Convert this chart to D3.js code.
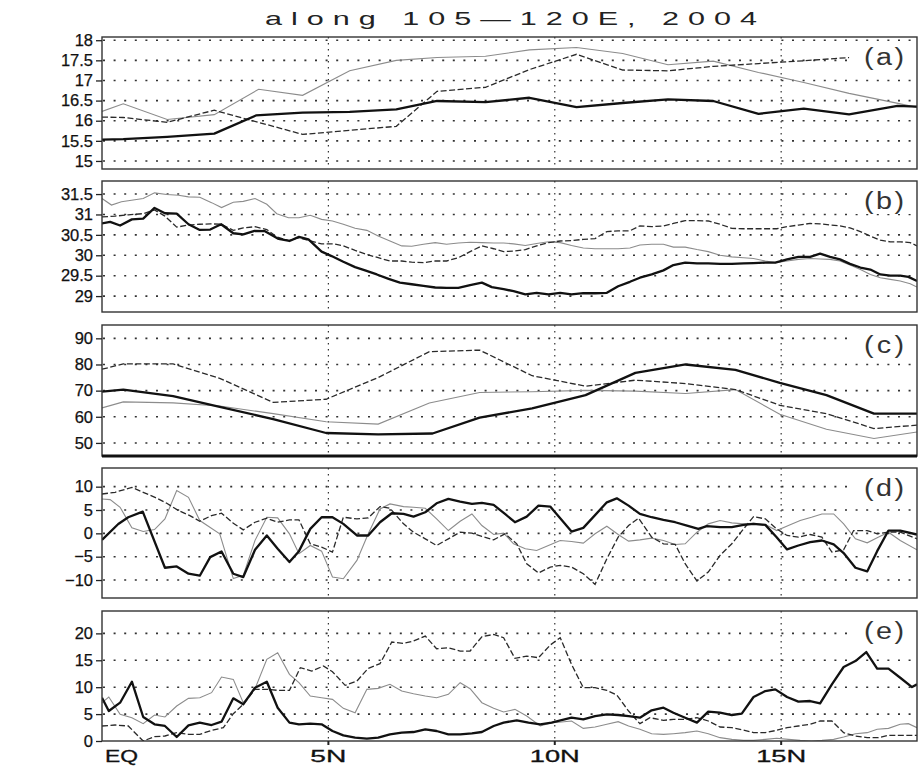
<!DOCTYPE html>
<html>
<head>
<meta charset="utf-8">
<script src="https://cdn.jsdelivr.net/npm/d3@7"></script>
<style>
  body { margin: 0; background: #fff; }
  svg { display: block; }
</style>
</head>
<body>
<svg width="918" height="773"></svg>
<script>
// values: [latitude (deg N), value]
var aThick = [[0,15.53],[0.47,15.54],[1.44,15.6],[2.48,15.68],[3.4,16.13],[4.43,16.2],[5.47,16.22],[6.5,16.28],[7.4,16.49],[8.47,16.46],[9.44,16.57],[10.48,16.34],[11.5,16.44],[12.5,16.53],[13.5,16.49],[14.5,16.17],[15.5,16.3],[16.5,16.16],[17.57,16.37],[18,16.35]];
var aGray = [[0,16.23],[0.47,16.42],[1.44,16.03],[2.48,16.15],[3.46,16.78],[4.43,16.63],[5.47,17.24],[6.5,17.5],[7.4,17.57],[8.47,17.6],[9.44,17.76],[10.48,17.82],[11.5,17.67],[12.5,17.39],[13.5,17.48],[14.5,17.2],[15.5,16.95],[16.5,16.68],[17.5,16.45],[18,16.33]];
var aDash = [[0,16.09],[0.47,16.08],[1.44,15.96],[2.48,16.26],[4.43,15.66],[5.47,15.76],[6.5,15.86],[7.4,16.73],[8.47,16.83],[9.44,17.27],[10.48,17.65],[11.5,17.26],[12.5,17.24],[13.5,17.35],[14.5,17.42],[15.5,17.49],[16.5,17.57]];

var bThick = [[0,30.78],[0.18,30.82],[0.4,30.73],[0.66,30.88],[0.91,30.9],[1.16,31.16],[1.39,31.03],[1.65,31.02],[1.91,30.76],[2.16,30.62],[2.39,30.63],[2.63,30.76],[2.9,30.54],[3.12,30.51],[3.37,30.6],[3.6,30.59],[3.9,30.4],[4.14,30.35],[4.35,30.45],[4.56,30.39],[4.85,30.09],[5.07,29.98],[5.33,29.84],[5.59,29.71],[5.81,29.63],[6.07,29.53],[6.33,29.42],[6.58,29.33],[6.84,29.29],[7.1,29.25],[7.36,29.21],[7.61,29.2],[7.87,29.2],[8.13,29.27],[8.39,29.33],[8.61,29.22],[8.87,29.17],[9.09,29.12],[9.35,29.04],[9.6,29.08],[9.86,29.04],[10.12,29.08],[10.37,29.04],[10.63,29.07],[10.89,29.07],[11.15,29.08],[11.4,29.24],[11.66,29.35],[11.88,29.45],[12.14,29.53],[12.4,29.63],[12.62,29.76],[12.88,29.82],[13.14,29.8],[13.39,29.8],[13.65,29.79],[13.91,29.79],[14.17,29.8],[14.39,29.81],[14.65,29.82],[14.87,29.82],[15.13,29.9],[15.38,29.96],[15.64,29.96],[15.86,30.04],[16.08,29.96],[16.3,29.9],[16.52,29.79],[16.75,29.7],[16.97,29.65],[17.19,29.53],[17.41,29.5],[17.63,29.5],[17.81,29.47],[18,29.37]];
var bGray = [[0,31.39],[0.21,31.23],[0.43,31.31],[0.91,31.39],[1.16,31.53],[1.43,31.49],[1.69,31.47],[1.91,31.43],[2.16,31.42],[2.42,31.29],[2.64,31.17],[2.9,31.3],[3.12,31.32],[3.38,31.39],[3.64,31.25],[3.86,31.02],[4.12,30.92],[4.35,30.92],[4.6,30.98],[4.85,30.88],[5.09,30.84],[5.33,30.76],[5.59,30.66],[5.85,30.61],[6.1,30.47],[6.36,30.35],[6.62,30.23],[6.84,30.22],[7.1,30.27],[7.36,30.31],[7.61,30.27],[7.87,30.3],[8.13,30.32],[8.39,30.31],[8.65,30.3],[8.87,30.3],[9.09,30.28],[9.35,30.24],[9.6,30.29],[9.86,30.33],[10.12,30.31],[10.37,30.24],[10.63,30.18],[10.89,30.16],[11.15,30.16],[11.4,30.16],[11.66,30.18],[11.88,30.25],[12.14,30.27],[12.4,30.27],[12.62,30.2],[12.88,30.2],[13.14,30.14],[13.39,30.09],[13.65,30.0],[13.91,29.96],[14.17,29.94],[14.39,29.92],[14.65,29.86],[14.87,29.82],[15.13,29.86],[15.38,29.9],[15.64,29.92],[15.86,29.91],[16.08,29.9],[16.3,29.86],[16.52,29.76],[16.75,29.65],[16.97,29.53],[17.19,29.45],[17.41,29.41],[17.63,29.37],[17.85,29.3],[18,29.22]];
var bDash = [[0,30.94],[0.29,30.96],[0.58,30.99],[0.91,31.02],[1.16,31.11],[1.39,30.96],[1.65,30.69],[1.91,30.74],[2.16,30.76],[2.39,30.77],[2.64,30.76],[2.9,30.61],[3.12,30.67],[3.38,30.7],[3.64,30.63],[3.86,30.45],[4.12,30.36],[4.35,30.43],[4.6,30.35],[4.85,30.28],[5.11,30.28],[5.33,30.23],[5.59,30.12],[5.85,30.02],[6.1,29.94],[6.36,29.86],[6.62,29.86],[6.84,29.83],[7.1,29.82],[7.36,29.86],[7.61,29.86],[7.87,29.94],[8.13,30.09],[8.39,30.23],[8.65,30.16],[8.87,30.09],[9.09,30.1],[9.35,30.14],[9.6,30.23],[9.86,30.31],[10.12,30.35],[10.37,30.36],[10.63,30.39],[10.89,30.41],[11.15,30.58],[11.4,30.6],[11.66,30.6],[11.88,30.72],[12.14,30.7],[12.4,30.72],[12.62,30.78],[12.88,30.85],[13.14,30.85],[13.39,30.84],[13.65,30.76],[13.91,30.66],[14.17,30.65],[14.39,30.65],[14.65,30.65],[14.9,30.65],[15.13,30.7],[15.38,30.74],[15.64,30.78],[15.86,30.77],[16.08,30.74],[16.3,30.72],[16.52,30.67],[16.75,30.58],[16.97,30.47],[17.19,30.37],[17.41,30.33],[17.63,30.33],[17.85,30.31],[18,30.23]];

var cThick = [[0,69.6],[0.47,70.4],[1.57,67.9],[2.6,63.8],[3.78,59.1],[4.95,53.8],[6.1,53.3],[7.3,53.6],[8.34,59.7],[9.5,63.2],[10.68,68.3],[11.78,76.8],[12.89,80.0],[13.99,77.9],[14.97,73.0],[16.0,68.3],[17.05,61.2],[18,61.2]];
var cGray = [[0,63.4],[0.47,65.7],[1.57,65.3],[2.6,64.1],[3.78,61.2],[4.95,58.1],[6.1,57.2],[7.23,65.3],[8.34,69.3],[9.5,69.6],[10.68,70.1],[11.78,69.8],[12.89,68.9],[13.99,70.4],[14.97,61.0],[16.0,55.2],[17.05,51.7],[18,54.2]];
var cDash = [[0,78.2],[0.47,80.2],[1.57,80.2],[2.6,74.7],[3.78,65.5],[4.95,66.7],[6.1,75.0],[7.23,84.9],[8.34,85.5],[9.5,75.7],[10.68,71.7],[11.78,74.0],[12.89,72.7],[13.99,70.4],[14.97,64.4],[16.0,61.2],[17.05,55.5],[18,56.8]];

var dThick = [[0,-1.39],[0.36,2.0],[0.58,3.45],[0.9,4.66],[1.39,-7.37],[1.65,-7.08],[1.91,-8.65],[2.16,-9.07],[2.39,-5.09],[2.64,-3.88],[2.9,-8.65],[3.12,-9.36],[3.38,-3.52],[3.64,-0.46],[3.88,-3.31],[4.14,-6.16],[4.35,-3.81],[4.6,0.96],[4.85,3.45],[5.09,3.45],[5.33,2.03],[5.63,-0.46],[5.88,-0.46],[6.14,2.38],[6.4,4.31],[6.66,4.16],[6.88,3.59],[7.14,4.52],[7.39,6.44],[7.65,7.37],[7.91,6.8],[8.17,6.3],[8.39,6.51],[8.65,6.09],[8.9,4.16],[9.12,2.38],[9.38,3.59],[9.64,5.94],[9.9,5.73],[10.37,0.39],[10.63,1.17],[11.15,6.65],[11.37,7.5],[11.63,5.94],[11.88,4.16],[12.14,3.45],[12.4,2.88],[12.66,2.38],[12.92,1.67],[13.17,0.96],[13.36,1.53],[13.65,1.32],[13.91,1.32],[14.17,1.81],[14.39,2.03],[14.65,1.81],[14.9,-0.82],[15.13,-3.45],[15.38,-2.6],[15.64,-1.89],[15.9,-1.53],[16.16,-2.38],[16.38,-4.23],[16.64,-7.37],[16.9,-8.15],[17.12,-3.81],[17.37,0.6],[17.63,0.6],[18,-0.25]];
var dGray = [[0,7.37],[0.18,7.22],[0.4,5.59],[0.66,1.17],[0.91,0.39],[1.16,0.82],[1.39,3.1],[1.65,9.15],[1.91,7.72],[2.16,2.74],[2.6,-0.1],[2.9,-9.7],[3.12,-9.0],[3.38,-1.5],[3.64,3.45],[3.88,3.31],[4.14,-0.1],[4.35,-4.37],[4.6,-2.6],[4.85,-3.81],[5.09,-9.36],[5.33,-9.72],[5.63,-5.8],[5.88,-0.1],[6.14,5.23],[6.36,6.3],[6.66,5.73],[6.88,5.59],[7.14,5.37],[7.39,3.1],[7.65,0.6],[7.91,2.6],[8.17,4.16],[8.39,1.67],[8.65,-0.25],[8.87,0.04],[9.09,-2.24],[9.35,-3.31],[9.6,-3.67],[9.86,-2.6],[10.12,-1.53],[10.37,-1.74],[10.63,-2.1],[10.89,-0.1],[11.15,1.53],[11.4,-0.25],[11.63,-1.67],[11.88,-1.39],[12.14,-1.03],[12.4,-1.53],[12.66,-2.38],[12.88,-2.24],[13.14,0.25],[13.39,2.03],[13.65,2.74],[13.91,2.24],[14.17,2.03],[14.39,2.17],[14.65,1.88],[14.9,0.6],[15.16,1.67],[15.42,2.74],[15.67,3.45],[15.9,4.16],[16.16,4.16],[16.38,2.03],[16.64,-1.17],[16.9,-2.03],[17.12,-0.96],[17.37,0.25],[17.63,-1.53],[18,-3.52]];
var dDash = [[0,8.43],[0.29,8.79],[0.66,9.86],[0.91,8.79],[1.17,7.72],[1.43,6.44],[1.69,4.88],[1.94,3.81],[2.16,2.6],[2.42,3.81],[2.64,4.31],[2.9,2.17],[3.12,0.75],[3.38,2.38],[3.64,3.24],[3.88,2.38],[4.14,2.88],[4.35,2.88],[4.6,-2.24],[4.85,-2.95],[5.09,-4.02],[5.33,3.45],[5.63,3.1],[5.88,3.31],[6.14,5.73],[6.36,5.37],[6.66,2.03],[6.88,0.25],[7.14,-1.17],[7.39,-2.6],[7.65,-1.17],[7.91,0.25],[8.17,0.04],[8.39,-0.67],[8.65,-1.39],[8.9,-0.1],[9.16,-2.24],[9.38,-6.51],[9.64,-8.5],[9.9,-7.22],[10.12,-6.87],[10.37,-7.22],[10.63,-8.65],[10.89,-10.93],[11.15,-5.44],[11.4,-0.82],[11.63,1.67],[11.85,3.24],[12.14,-0.82],[12.4,-2.24],[12.66,-2.38],[12.88,-6.51],[13.14,-10.2],[13.39,-8.29],[13.65,-4.73],[13.91,-2.24],[14.17,0.96],[14.39,3.59],[14.65,3.1],[14.9,0.96],[15.13,-0.46],[15.38,-0.82],[15.64,-0.25],[15.9,-0.82],[16.12,-4.02],[16.38,-3.52],[16.6,0.6],[16.9,0.6],[17.12,-0.1],[17.37,0.25],[17.63,0.25],[18,-1.17]];

var eThick = [[0,8.05],[0.15,5.57],[0.4,7.12],[0.66,11.02],[0.91,4.46],[1.16,3.1],[1.39,2.79],[1.65,0.74],[1.91,2.91],[2.16,3.41],[2.42,2.97],[2.64,3.59],[2.9,7.93],[3.12,6.81],[3.38,9.91],[3.64,11.02],[3.88,6.19],[4.14,3.41],[4.35,3.1],[4.6,3.22],[4.85,3.1],[5.09,1.86],[5.33,1.05],[5.59,0.62],[5.85,0.43],[6.1,0.62],[6.36,1.24],[6.62,1.55],[6.88,1.67],[7.14,2.17],[7.39,1.86],[7.65,1.24],[7.91,1.24],[8.17,1.42],[8.39,1.67],[8.65,2.79],[8.87,3.41],[9.16,3.84],[9.42,3.41],[9.68,3.1],[9.93,3.41],[10.37,4.33],[10.63,4.02],[10.89,4.64],[11.15,4.95],[11.4,4.83],[11.63,4.64],[11.88,4.33],[12.14,5.7],[12.4,6.19],[12.62,5.26],[12.88,4.33],[13.14,3.41],[13.39,5.45],[13.65,5.26],[13.91,4.83],[14.13,5.08],[14.39,8.17],[14.65,9.29],[14.87,9.6],[15.13,8.17],[15.38,7.31],[15.64,7.43],[15.86,7.0],[16.12,10.53],[16.38,13.75],[16.64,14.86],[16.88,16.53],[17.12,13.44],[17.37,13.44],[17.63,11.76],[17.89,10.03],[18,10.53]];
var eGray = [[0,7.12],[0.15,8.17],[0.4,4.95],[0.66,4.33],[0.91,3.22],[1.16,4.83],[1.39,4.46],[1.65,6.5],[1.91,7.93],[2.16,8.05],[2.42,8.98],[2.64,11.89],[2.9,11.45],[3.12,7.12],[3.38,9.72],[3.64,15.17],[3.88,16.41],[4.14,12.38],[4.35,10.84],[4.6,8.36],[4.85,8.05],[5.09,7.74],[5.33,6.07],[5.59,5.26],[5.85,9.6],[6.1,9.78],[6.36,10.53],[6.62,9.29],[6.88,8.79],[7.14,8.36],[7.39,8.05],[7.65,8.67],[7.91,10.84],[8.13,9.72],[8.39,7.12],[8.65,6.07],[8.87,5.39],[9.12,5.88],[9.38,4.64],[9.68,2.79],[9.93,3.41],[10.15,3.53],[10.37,3.72],[10.63,2.35],[10.89,2.6],[11.15,3.1],[11.4,3.59],[11.63,2.79],[11.88,2.17],[12.14,1.36],[12.4,1.24],[12.62,1.36],[12.88,1.55],[13.14,1.86],[13.39,1.36],[13.65,0.62],[13.91,0.31],[14.17,0.12],[14.39,0.12],[14.65,0.31],[14.9,0.5],[15.16,0.31],[15.42,0.12],[15.67,0],[15.9,0.12],[16.16,0.31],[16.38,0.74],[16.64,1.36],[16.9,1.55],[17.12,2.17],[17.37,2.35],[17.63,3.1],[17.81,3.22],[18,2.48]];
var eDash = [[0,2.79],[0.29,2.97],[0.58,2.79],[0.91,0],[1.16,0.8],[1.39,0.93],[1.65,1.55],[1.91,1.24],[2.16,1.24],[2.42,1.98],[2.68,2.48],[2.9,5.08],[3.12,6.81],[3.38,9.6],[3.64,9.6],[3.88,9.41],[4.14,9.41],[4.38,13.62],[4.63,13.0],[4.89,13.93],[5.09,12.88],[5.37,10.34],[5.63,11.15],[5.88,13.5],[6.14,14.37],[6.4,18.39],[6.66,18.14],[6.88,18.58],[7.14,19.5],[7.39,17.15],[7.65,17.34],[7.91,16.72],[8.13,16.72],[8.39,19.38],[8.65,19.81],[8.87,19.2],[9.12,15.36],[9.38,15.79],[9.64,15.48],[9.9,17.83],[10.12,19.2],[10.37,14.24],[10.63,9.91],[10.89,9.91],[11.15,9.41],[11.37,8.55],[11.63,5.57],[11.88,3.22],[12.1,4.33],[12.4,3.84],[12.62,4.02],[12.88,4.02],[13.14,4.33],[13.39,3.72],[13.65,2.6],[13.91,2.48],[14.17,2.04],[14.39,1.55],[14.65,1.55],[14.9,1.98],[15.13,2.48],[15.38,2.79],[15.64,3.1],[15.86,3.72],[16.12,3.72],[16.38,1.55],[16.64,0.93],[16.9,0.62],[17.15,0.62],[17.37,1.05],[17.63,1.05],[18,1.05]];

var aTicks = [15, 15.5, 16, 16.5, 17, 17.5, 18];
var bTicks = [29, 29.5, 30, 30.5, 31, 31.5];
var cTicks = [50, 60, 70, 80, 90];
var dTicks = [-10, -5, 0, 5, 10];
var eTicks = [0, 5, 10, 15, 20];
var latTicks = [0, 5, 10, 15];
var latLabels = ['EQ', '5N', '10N', '15N'];
var title = 'along 105\u2014120E, 2004';

var svg = d3.select('svg');
var left = 102, right = 917;
var x = d3.scaleLinear().domain([0, 18]).range([left, right]);

var panels = [
  {name: '(a)', top: 37, bottom: 169, domain: [14.8, 18.08], ticks: aTicks, thick: aThick, gray: aGray, dash: aDash},
  {name: '(b)', top: 181, bottom: 312, domain: [28.61, 31.82], ticks: bTicks, thick: bThick, gray: bGray, dash: bDash},
  {name: '(c)', top: 325, bottom: 456, domain: [45, 95.1], ticks: cTicks, thick: cThick, gray: cGray, dash: cDash},
  {name: '(d)', top: 468, bottom: 598, domain: [-13.85, 14], ticks: dTicks, thick: dThick, gray: dGray, dash: dDash},
  {name: '(e)', top: 611, bottom: 741, domain: [0, 24.16], ticks: eTicks, thick: eThick, gray: eGray, dash: eDash}
];

var fmt = function(d) { return String(d).replace('-', '\u2212'); };

// title, wide thin glyphs like the plotting package's stroke font
svg.append('g')
   .attr('transform', 'translate(265,25) scale(1.7,1)')
   .append('text')
     .attr('x', 0).attr('y', 0)
     .attr('textLength', 492 / 1.7)
     .attr('lengthAdjust', 'spacing')
     .style('font-family', 'Liberation Sans, Arial, sans-serif')
     .style('font-size', '18px')
     .style('fill', '#222')
     .text(title);

panels.forEach(function(p, i) {
  var y = d3.scaleLinear().domain(p.domain).range([p.bottom, p.top]);
  var g = svg.append('g');

  g.append('clipPath').attr('id', 'clip' + i)
   .append('rect')
     .attr('x', left).attr('y', p.top)
     .attr('width', right - left).attr('height', p.bottom - p.top);

  // dotted grid
  g.selectAll('.hgrid')
   .data(p.ticks.filter(function(t) { return y(t) > p.top + 2 && y(t) < p.bottom - 2; }))
   .enter().append('line')
     .attr('x1', left + 1).attr('x2', right)
     .attr('y1', function(d) { return y(d); })
     .attr('y2', function(d) { return y(d); })
     .attr('stroke', '#333').attr('stroke-width', 1.6)
     .attr('stroke-dasharray', '2,8.6');

  g.selectAll('.vgrid')
   .data([5, 10, 15])
   .enter().append('line')
     .attr('x1', function(d) { return x(d); })
     .attr('x2', function(d) { return x(d); })
     .attr('y1', p.top).attr('y2', p.bottom)
     .attr('stroke', '#333').attr('stroke-width', 1.2)
     .attr('stroke-dasharray', '1.5,4.5');

  var line = d3.line()
    .x(function(d) { return x(d[0]); })
    .y(function(d) { return y(d[1]); });

  var lines = g.append('g').attr('clip-path', 'url(#clip' + i + ')');
  lines.append('path').datum(p.gray)
    .attr('d', line).attr('fill', 'none')
    .attr('stroke', '#8c8c8c').attr('stroke-width', 1.1);
  lines.append('path').datum(p.dash)
    .attr('d', line).attr('fill', 'none')
    .attr('stroke', '#2a2a2a').attr('stroke-width', 1.3)
    .attr('stroke-dasharray', '6,2.5');
  lines.append('path').datum(p.thick)
    .attr('d', line).attr('fill', 'none')
    .attr('stroke', '#111').attr('stroke-width', 2.3)
    .attr('stroke-linejoin', 'round');

  // panel letter on a white patch
  g.append('rect')
    .attr('x', 850).attr('y', p.top + 5)
    .attr('width', right - 851).attr('height', 28)
    .attr('fill', '#fff');
  g.append('g')
    .attr('transform', 'translate(864,' + (p.top + 28) + ') scale(1.25,1)')
    .append('text')
      .attr('x', 0).attr('y', 0)
      .attr('textLength', 40 / 1.25).attr('lengthAdjust', 'spacing')
      .style('font-family', 'Liberation Sans, Arial, sans-serif')
      .style('font-size', '23px')
      .style('fill', '#333')
      .text(p.name);

  // frame
  g.append('rect')
    .attr('x', left).attr('y', p.top)
    .attr('width', right - left).attr('height', p.bottom - p.top)
    .attr('fill', 'none').attr('stroke', '#333').attr('stroke-width', 1.4);
  if (p.name === '(c)') {
    g.append('line')
      .attr('x1', left).attr('x2', right)
      .attr('y1', p.bottom).attr('y2', p.bottom)
      .attr('stroke', '#111').attr('stroke-width', 3);
  }

  // y axis
  var axis = g.append('g')
    .attr('transform', 'translate(' + left + ',0)')
    .call(d3.axisLeft(y).tickValues(p.ticks).tickSize(6).tickPadding(3).tickFormat(fmt));
  axis.select('.domain').remove();
  axis.selectAll('line').attr('stroke', '#222').attr('stroke-width', 1.3);
  axis.selectAll('text')
    .style('font-family', 'Liberation Sans, Arial, sans-serif')
    .style('font-size', '16.5px')
    .style('fill', '#111')
    .style('stroke', '#111')
    .style('stroke-width', 0.25);
});

// latitude axis under the last panel
var last = panels[panels.length - 1];
svg.selectAll('.xtick')
   .data([5, 10, 15])
   .enter().append('line')
     .attr('x1', function(d) { return x(d); })
     .attr('x2', function(d) { return x(d); })
     .attr('y1', last.bottom).attr('y2', last.bottom + 4)
     .attr('stroke', '#222').attr('stroke-width', 2);

var labelLen = [33, 36, 50, 50];
svg.selectAll('.xlab')
   .data(latTicks)
   .enter().append('text')
     .attr('x', function(d, i) { return i === 0 ? x(d) + 3 : x(d); })
     .attr('y', 762)
     .attr('text-anchor', function(d, i) { return i === 0 ? 'start' : 'middle'; })
     .attr('textLength', function(d, i) { return labelLen[i]; })
     .attr('lengthAdjust', 'spacingAndGlyphs')
     .style('font-family', 'Liberation Sans, Arial, sans-serif')
     .style('font-size', '16.5px')
     .style('fill', '#111')
     .style('stroke', '#111')
     .style('stroke-width', 0.3)
     .text(function(d, i) { return latLabels[i]; });
</script>
</body>
</html>
